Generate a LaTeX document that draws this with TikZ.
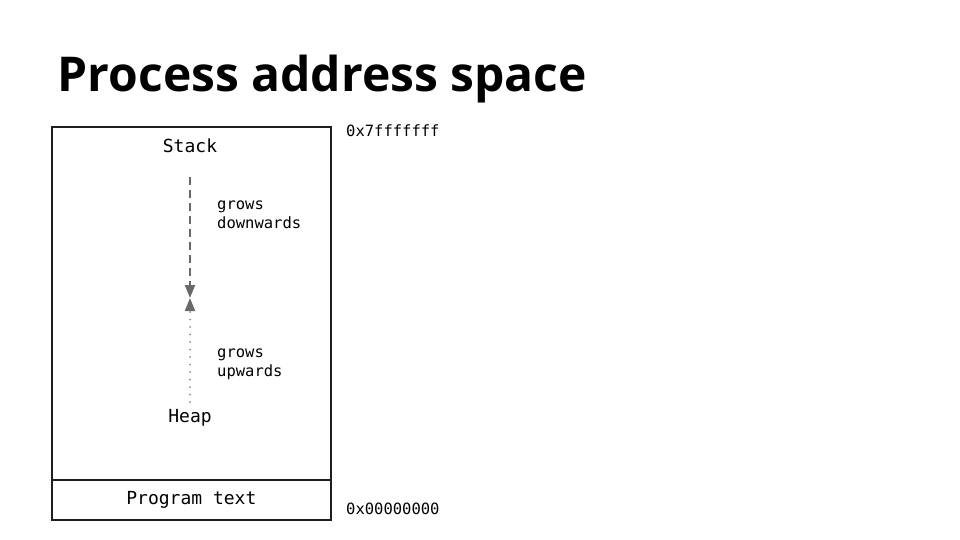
\documentclass[tikz,border=0pt]{standalone}
\usepackage{fontspec}
\setmainfont{Open Sans}
\newfontfamily\monofnt{DejaVu Sans Mono}
\usetikzlibrary{arrows.meta}
\definecolor{arrgray}{RGB}{105,105,105}
\definecolor{dotgray}{RGB}{140,140,140}
\definecolor{boxline}{RGB}{30,30,30}
\tikzset{
  lbl/.style={inner sep=0pt, font=\monofnt\fontsize{18}{18}\selectfont},
  sml/.style={inner sep=0pt, font=\monofnt\fontsize{15.5}{18.5}\selectfont, align=left},
  region/.style={draw=boxline, line width=1.8pt, inner sep=0pt, anchor=north west, minimum width=279pt},
  downarr/.style={draw=arrgray, line width=2pt, dash pattern=on 8pt off 5pt,
    -{Triangle[length=13pt,width=10pt,color=arrgray]}},
  uparr/.style={draw=dotgray, line width=2pt, line cap=round, dash pattern=on 0pt off 7.5pt,
    -{Triangle[length=13pt,width=10pt,color=arrgray,line cap=butt]}}
}
\begin{document}
\begin{tikzpicture}[x=1pt,y=-1pt]
\useasboundingbox (0,0) rectangle (960,540);
\node[anchor=base west, inner sep=0pt, font=\bfseries\fontsize{48}{48}\selectfont] (title) at (57.5,92) {Process address space};
\node[region, minimum height=353pt] (mem) at (51,126) {};
\node[region, minimum height=40pt, lbl] (prog) at (51,479) {Program text};
\node[lbl] (stack) at (190,146) {Stack};
\node[lbl] (heap) at (190,417.5) {Heap};
\coordinate (sa) at (190,177);
\coordinate (ha) at (190,402);
\coordinate (mid) at (190,298);
\draw[downarr] (sa) -- (mid);
\draw[uparr] (ha) -- (mid);
\node[sml, anchor=west] (gd) at (217,215) {grows\\downwards};
\node[sml, anchor=west] (gu) at (217,364.5) {grows\\upwards};
\node[sml, anchor=west] (hi) at (346,131) {0x7fffffff};
\node[sml, anchor=west] (lo) at (346,509) {0x00000000};
\end{tikzpicture}
\end{document}
